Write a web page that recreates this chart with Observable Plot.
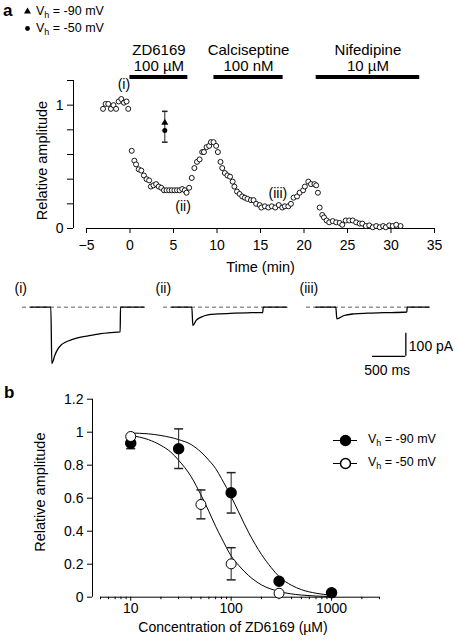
<!DOCTYPE html>
<html><head><meta charset="utf-8">
<script src="https://cdn.jsdelivr.net/npm/d3@7"></script>
<script src="https://cdn.jsdelivr.net/npm/@observablehq/plot@0.6"></script>
<style>
body{margin:0;background:#fff;}
#fig{position:relative;width:458px;height:640px;font-family:"Liberation Sans",Arial,Helvetica,sans-serif;color:#000;overflow:hidden;background:#fff;}
#fig svg{overflow:visible;}
.lbl{position:absolute;white-space:nowrap;line-height:1;transform:translateY(-50%);}
.sub{font-size:9px;position:relative;top:3px;}
</style></head><body><div id="fig"></div>
<script>
// ---------- Panel a: time course ----------
const timeMin = [-3.1,-2.8,-2.5,-2.2,-1.9,-1.6,-1.3,-1.0,-0.7,-0.4,-0.2,
  0.2,0.5,0.7,1.0,1.3,1.6,1.9,2.2,2.4,2.7,3.0,3.3,3.6,3.9,4.2,4.5,4.8,5.1,5.4,5.7,6.0,6.3,6.5,6.8,
  7.1,7.4,7.7,8.0,8.3,8.5,8.8,9.1,9.3,9.6,9.9,10.1,10.4,10.6,10.9,11.2,11.5,11.8,12.0,12.3,12.6,12.9,
  13.2,13.5,13.9,14.2,14.5,14.9,15.1,15.5,15.9,16.3,16.7,17.1,17.5,17.8,18.2,18.5,18.8,19.2,19.5,19.9,
  20.1,20.5,20.8,21.2,21.4,21.6,21.8,22.1,22.3,22.6,22.9,23.3,23.7,24.1,24.4,24.8,25.2,25.6,26.0,26.4,
  26.7,27.1,27.5,27.9,28.3,28.7,29.1,29.4,29.8,30.2,30.6,31.1];
const relAmp = [0.97,1.01,1.01,0.97,1.00,0.97,1.03,1.05,1.02,1.03,0.97,
  0.63,0.55,0.52,0.48,0.47,0.43,0.40,0.39,0.34,0.35,0.36,0.34,0.33,0.31,0.31,0.31,0.31,0.31,0.31,0.31,0.32,0.31,0.29,0.33,
  0.41,0.49,0.54,0.56,0.62,0.62,0.66,0.67,0.70,0.70,0.67,0.62,0.54,0.49,0.45,0.43,0.42,0.38,0.34,0.30,0.28,0.26,
  0.25,0.24,0.23,0.23,0.20,0.19,0.17,0.18,0.17,0.18,0.17,0.19,0.17,0.18,0.18,0.20,0.25,0.26,0.29,0.31,
  0.34,0.38,0.36,0.36,0.35,0.29,0.17,0.11,0.09,0.065,0.05,0.06,0.05,0.045,0.03,0.065,0.065,0.065,0.05,0.04,
  0.04,0.02,0.025,0.01,0.02,0.01,0.02,0.01,0.025,0.02,0.03,0.02];

// single points at Vh = -90 (triangle) and -50 (circle)
const ctrlTime = 4;
const ctrlTriangle = 0.857;
const ctrlCircle = 0.795;
const ctrlErrLow = 0.70, ctrlErrHigh = 0.95;

const annotLabels = ["(i)", "(ii)", "(iii)"];
const annotTime = [-0.7, 6.1, 17.0];
const annotAmp = [1.17, 0.18, 0.285];

const drugNames = ["ZD6169", "Calciseptine", "Nifedipine"];
const drugConcs = ["100 µM", "100 nM", "10 µM"];
const drugStart = [0, 9.65, 21.4];
const drugEnd = [6.65, 17.6, 33.3];

const xTicksA = [-5, 0, 5, 10, 15, 20, 25, 30, 35];
const yTicksA = [0, 0.2, 0.4, 0.6, 0.8, 1, 1.2];
const yLabelsA = ["0", "", "", "", "", "1", ""];
const xDomainA = [-5, 35];
const yDomainA = [0, 1.2];

// ---------- Current traces (ms, pA) ----------
const traceITime = [-300, 0, 15, 60, 100, 150, 225, 325, 450, 600, 750, 900, 1040, 1045, 1400];
const traceICurrent = [0, 0, -243, -207, -183, -164, -150, -139, -129, -122, -114, -110, -107, 0, 0];
const traceIITime = [-300, 0, 15, 65, 140, 240, 390, 640, 890, 1065, 1070, 1425];
const traceIICurrent = [0, 0, -79, -57, -43, -33, -29, -26, -24, -23, 0, 0];
const traceIIITime = [-300, 0, 15, 125, 275, 475, 725, 1065, 1070, 1400];
const traceIIICurrent = [0, 0, -50, -36, -29, -26, -24, -21, 0, 0];
const traceNames = ["(i)", "(ii)", "(iii)"];
const traceDashFrom = [-425, -425, -440];
const traceDashTo = [1400, 1425, 1400];
const scaleBarTime = [550, 1050];      // 500 ms
const scaleBarCurrent = [-212, -112];  // 100 pA
const scaleBarLabels = ["100 pA", "500 ms"];

// ---------- Panel b: concentration-response ----------
const seriesNames = ["Vh = -90 mV", "Vh = -50 mV"];
const conc90 = [10, 30, 100, 300, 1000];
const amp90 = [0.933, 0.90, 0.633, 0.097, 0.027];
const err90Low = [0.90, 0.78, 0.51, null, null];
const err90High = [0.96, 1.02, 0.755, null, null];
const conc50 = [10, 50, 100, 300];
const amp50 = [0.974, 0.562, 0.202, 0.024];
const err50Low = [null, 0.475, 0.105, null];
const err50High = [null, 0.65, 0.30, null];
// fitted curves
const fit90Conc = [10, 15, 20, 30, 40, 50, 60, 70, 80, 100, 120, 150, 200, 250, 300, 400, 500, 700, 1000];
const fit90Amp = [0.995, 0.99, 0.98, 0.955, 0.925, 0.88, 0.83, 0.78, 0.72, 0.61, 0.51, 0.39, 0.26, 0.18, 0.125, 0.072, 0.046, 0.024, 0.012];
const fit50Conc = [10, 15, 20, 25, 30, 40, 50, 60, 70, 80, 100, 120, 150, 200, 300, 500, 1000];
const fit50Amp = [0.98, 0.955, 0.92, 0.88, 0.83, 0.73, 0.62, 0.52, 0.43, 0.36, 0.25, 0.19, 0.13, 0.075, 0.035, 0.013, 0.004];
const xMajorB = [10, 100, 1000];
const xMinorB = [5, 6, 7, 8, 9, 20, 30, 40, 50, 60, 70, 80, 90, 200, 300, 400, 500, 600, 700, 800, 900, 2000, 3000];
const yTicksB = [0, 0.2, 0.4, 0.6, 0.8, 1, 1.2];
const xDomainB = [5, 3000];
const yDomainB = [0, 1.2];

// ================= drawing =================
const fig = document.getElementById("fig");
const FONT = '"Liberation Sans", Arial, Helvetica, sans-serif';
const baseStyle = {fontFamily: FONT, fontSize: "14px", background: "transparent", overflow: "visible", color: "#000"};
function place(el, left, top) {
  el.style.position = "absolute"; el.style.left = left + "px"; el.style.top = top + "px";
  fig.appendChild(el); return el;
}
function label(html, x, y, size, extra) {
  const d = document.createElement("div");
  d.className = "lbl"; d.innerHTML = html;
  d.style.left = x + "px"; d.style.top = y + "px"; d.style.fontSize = size + "px";
  if (extra) Object.assign(d.style, extra);
  fig.appendChild(d); return d;
}
// error-bar cap symbol: horizontal line of half-width r
const capSymbol = {draw(ctx, size) { const r = Math.sqrt(size / Math.PI); ctx.moveTo(-r, 0); ctx.lineTo(r, 0); }};

const course = timeMin.map((t, i) => ({t, v: relAmp[i]}));
const ctrl = [{t: ctrlTime, lo: ctrlErrLow, hi: ctrlErrHigh}];
const annots = annotLabels.map((s, i) => ({s, t: annotTime[i], v: annotAmp[i]}));
const drugs = drugNames.map((n, i) => ({name: n, conc: drugConcs[i], start: drugStart[i], end: drugEnd[i]}));

// panel labels
label("a", 3, 10, 17, {fontWeight: "bold"});
label("b", 4, 392, 17, {fontWeight: "bold"});

// legend panel a (symbols)
place(Plot.plot({
  width: 10, height: 34, margin: 0,
  x: {axis: null}, y: {type: "point", domain: seriesNames, padding: 0.5, axis: null},
  style: baseStyle,
  marks: [
    Plot.dot([seriesNames[0]], {y: d => d, symbol: "triangle", r: 2.6, fill: "black", stroke: "none"}),
    Plot.dot([seriesNames[1]], {y: d => d, symbol: "circle", r: 2.4, fill: "black", stroke: "none"})
  ]
}), 22, 2);
label('V<span class="sub">h</span> = -90 mV', 36, 10.5, 12.5);
label('V<span class="sub">h</span> = -50 mV', 36, 27.5, 12.5);

// drug application bars
place(Plot.plot({
  width: 458, height: 40, marginLeft: 86, marginRight: 24, marginTop: 0, marginBottom: 0,
  x: {domain: xDomainA, axis: null},
  style: baseStyle,
  marks: [
    Plot.rect(drugs, {x1: "start", x2: "end", insetTop: 35, insetBottom: 1, fill: "black"}),
    Plot.text(drugs, {x: d => (d.start + d.end) / 2, text: d => d.name + "\n" + d.conc,
      frameAnchor: "top", lineAnchor: "top", fontSize: 15, lineHeight: 1.07, dy: 3})
  ]
}), 0, 40);

// time course plot
place(Plot.plot({
  width: 458, height: 280, marginLeft: 86, marginRight: 24, marginTop: 80, marginBottom: 52,
  x: {domain: xDomainA}, y: {domain: yDomainA},
  style: baseStyle,
  marks: [
    Plot.ruleX([xDomainA[0]], {dx: -13, stroke: "black"}),
    Plot.ruleY([yDomainA[0]], {stroke: "black"}),
    Plot.axisY({ticks: yTicksA, tickFormat: d => yLabelsA[yTicksA.indexOf(d)], tickSize: 6, tickPadding: 4, dx: -13, label: null, fontSize: 14}),
    Plot.axisX({ticks: xTicksA, tickSize: 5, tickPadding: 7, label: null, fontSize: 14}),
    Plot.text(["Relative amplitude"], {frameAnchor: "left", textAnchor: "middle", lineAnchor: "middle", rotate: -90, dx: -44, dy: 6, fontSize: 14.5}),
    Plot.text(["Time (min)"], {frameAnchor: "bottom", lineAnchor: "middle", dy: 39, fontSize: 14.5}),
    Plot.ruleX(ctrl, {x: "t", y1: "lo", y2: "hi", stroke: "#222", strokeWidth: 1}),
    Plot.dot(ctrl, {x: "t", y: "lo", symbol: capSymbol, r: 2.8, fill: "none", stroke: "#222"}),
    Plot.dot(ctrl, {x: "t", y: "hi", symbol: capSymbol, r: 2.8, fill: "none", stroke: "#222"}),
    Plot.dot([ctrlTriangle], {x: () => ctrlTime, y: d => d, symbol: "triangle", r: 2.6, fill: "black", stroke: "none"}),
    Plot.dot([ctrlCircle], {x: () => ctrlTime, y: d => d, symbol: "circle", r: 2.5, fill: "black", stroke: "none"}),
    Plot.dot(course, {x: "t", y: "v", r: 2.5, stroke: "black", strokeWidth: 0.9, fill: "white"}),
    Plot.text(annots, {x: "t", y: "v", text: "s", fontSize: 14})
  ]
}), 0, 0);

// current traces
const traceSets = [
  {time: traceITime, cur: traceICurrent},
  {time: traceIITime, cur: traceIICurrent},
  {time: traceIIITime, cur: traceIIICurrent}
];
const traceLeft = [20.7, 161.7, 305.7];
traceSets.forEach((ts, k) => {
  const pts = ts.time.map((t, i) => ({t, c: ts.cur[i]}));
  const marks = [
    Plot.ruleY([0], {x1: traceDashFrom[k], x2: traceDashTo[k], stroke: "#333", strokeWidth: 0.8, strokeDasharray: "4,3"}),
    Plot.line(pts, {x: "t", y: "c", curve: "monotone-x", stroke: "black", strokeWidth: 1.3}),
    Plot.text([traceNames[k]], {frameAnchor: "top-left", lineAnchor: "middle", dx: -7, dy: -14, fontSize: 14, textAnchor: "start"})
  ];
  if (k === 2) {
    const sb = {t0: scaleBarTime[0], t1: scaleBarTime[1], c0: scaleBarCurrent[0], c1: scaleBarCurrent[1]};
    marks.push(
      Plot.ruleX([sb], {x: "t1", y1: "c0", y2: "c1", stroke: "black", strokeWidth: 1.3}),
      Plot.ruleY([sb], {y: "c0", x1: "t0", x2: "t1", stroke: "black", strokeWidth: 1.3}),
      Plot.text([sb], {x: "t1", y: d => (d.c0 + d.c1) / 2, text: () => scaleBarLabels[0], textAnchor: "start", dx: 3, dy: 2, fontSize: 14}),
      Plot.text([sb], {x: d => (d.t0 + d.t1) / 2, y: "c0", text: () => scaleBarLabels[1], dy: 14, dx: -2, fontSize: 14})
    );
  }
  place(Plot.plot({
    width: 124, height: 85, marginLeft: 0, marginRight: 0, marginTop: 0, marginBottom: 20,
    x: {domain: [-440, 1420], axis: null}, y: {domain: [-260, 20], axis: null},
    style: baseStyle, marks
  }), traceLeft[k], 302);
});

// panel b
const pts90 = conc90.map((c, i) => ({c, v: amp90[i], lo: err90Low[i], hi: err90High[i]}));
const pts50 = conc50.map((c, i) => ({c, v: amp50[i], lo: err50Low[i], hi: err50High[i]}));
const errs = pts90.concat(pts50).filter(d => d.lo != null);
const fit90 = fit90Conc.map((c, i) => ({c, v: fit90Amp[i]}));
const fit50 = fit50Conc.map((c, i) => ({c, v: fit50Amp[i]}));
place(Plot.plot({
  width: 458, height: 260, marginLeft: 100, marginRight: 79, marginTop: 18.7, marginBottom: 43.3,
  x: {type: "log", domain: xDomainB}, y: {domain: yDomainB},
  style: baseStyle,
  marks: [
    Plot.ruleX([xDomainB[0]], {dx: -8, stroke: "black"}),
    Plot.ruleY([yDomainB[0]], {stroke: "black"}),
    Plot.axisY({ticks: yTicksB, tickFormat: d => String(d), tickSize: 5, tickPadding: 4, dx: -8, label: null, fontSize: 14}),
    Plot.axisX({ticks: xMajorB, tickFormat: d => String(d), tickSize: 4, tickPadding: 2, label: null, fontSize: 14}),
    Plot.axisX({ticks: xMinorB, tickFormat: () => "", tickSize: 2.5, label: null}),
    Plot.text(["Relative amplitude"], {frameAnchor: "left", textAnchor: "middle", lineAnchor: "middle", rotate: -90, dx: -60, dy: -6, fontSize: 14.5}),
    Plot.text(["Concentration of ZD6169 (µM)"], {frameAnchor: "bottom", lineAnchor: "middle", dy: 30, dx: -7, fontSize: 14}),
    Plot.line(fit90, {x: "c", y: "v", curve: "monotone-x", stroke: "black", strokeWidth: 1}),
    Plot.line(fit50, {x: "c", y: "v", curve: "monotone-x", stroke: "black", strokeWidth: 1}),
    Plot.ruleX(errs, {x: "c", y1: "lo", y2: "hi", stroke: "#222"}),
    Plot.dot(errs, {x: "c", y: "lo", symbol: capSymbol, r: 4.5, fill: "none", stroke: "#222"}),
    Plot.dot(errs, {x: "c", y: "hi", symbol: capSymbol, r: 4.5, fill: "none", stroke: "#222"}),
    Plot.dot(pts90, {x: "c", y: "v", r: 5, fill: "black", stroke: "black"}),
    Plot.dot(pts50, {x: "c", y: "v", r: 5, fill: "white", stroke: "black", strokeWidth: 1})
  ]
}), 0, 380);

// legend panel b
place(Plot.plot({
  width: 24, height: 46, margin: 0,
  x: {axis: null}, y: {type: "point", domain: seriesNames, padding: 0.5, axis: null},
  style: baseStyle,
  marks: [
    Plot.ruleY(seriesNames, {y: d => d, stroke: "black"}),
    Plot.dot([seriesNames[0]], {y: d => d, r: 5, fill: "black", stroke: "black"}),
    Plot.dot([seriesNames[1]], {y: d => d, r: 5, fill: "white", stroke: "black"})
  ]
}), 333, 427.5);
label('V<span class="sub">h</span> = -90 mV', 368, 439, 12.5);
label('V<span class="sub">h</span> = -50 mV', 368, 462, 12.5);
</script>
</body></html>
